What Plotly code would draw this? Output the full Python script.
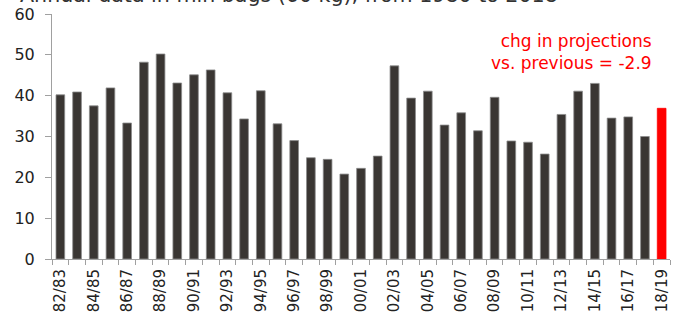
import plotly.graph_objects as go

seasons = ["82/83","83/84","84/85","85/86","86/87","87/88","88/89","89/90","90/91","91/92",
           "92/93","93/94","94/95","95/96","96/97","97/98","98/99","99/00","00/01","01/02",
           "02/03","03/04","04/05","05/06","06/07","07/08","08/09","09/10","10/11","11/12",
           "12/13","13/14","14/15","15/16","16/17","17/18","18/19"]
values = [40.2, 40.9, 37.5, 41.9, 33.3, 48.2, 50.2, 43.1, 45.1, 46.3,
          40.7, 34.3, 41.2, 33.1, 29.0, 24.8, 24.4, 20.8, 22.2, 25.2,
          47.3, 39.4, 41.1, 32.8, 35.8, 31.4, 39.6, 28.9, 28.6, 25.7,
          35.4, 41.1, 43.0, 34.5, 34.8, 30.0, 36.9]
tick_labels = [s if i % 2 == 0 else "" for i, s in enumerate(seasons)]
colors = ["#3a3633"] * (len(seasons) - 1) + ["#ff0000"]
line_colors = ["#8c8c8c"] * (len(seasons) - 1) + ["#ff0000"]

font_family = "'DejaVu Sans', sans-serif"

fig = go.Figure(go.Bar(
    x=seasons, y=values,
    marker=dict(color=colors, line=dict(color=line_colors, width=0.8)),
))

fig.update_layout(
    width=680, height=327,
    margin=dict(l=52, r=10, t=14, b=68),
    plot_bgcolor="white", paper_bgcolor="white",
    bargap=0.48,
    showlegend=False,
    font=dict(family=font_family, color="#222222"),
    xaxis=dict(
        type="category", automargin=False,
        tickmode="array", tickvals=seasons, ticktext=tick_labels,
        tickangle=-90, tickson="boundaries",
        ticks="outside", ticklen=5, tickcolor="#a0a0a0",
        showline=True, linecolor="#a0a0a0", linewidth=1,
        showgrid=False, ticklabelstandoff=3,
        tickfont=dict(size=15, color="#222222"),
    ),
    yaxis=dict(
        range=[0, 60], tickvals=[0, 10, 20, 30, 40, 50, 60], automargin=False,
        ticks="outside", ticklen=6, tickcolor="#a0a0a0",
        showline=True, linecolor="#a0a0a0", linewidth=1,
        showgrid=False, zeroline=False, ticklabelstandoff=7,
        ticklabeloverflow="allow",
        tickfont=dict(size=16, color="#222222"),
    ),
    annotations=[
        dict(text="Annual data in mln bags (60 kg), from 1980 to 2018",
             xref="paper", yref="paper", x=-0.055, y=1.0, xanchor="left", yanchor="bottom",
             yshift=5, showarrow=False, font=dict(size=20.6, color="#333333")),
        dict(text="chg in projections<br>vs. previous = -2.9",
             xref="paper", yref="paper", x=0.974, y=0.94, xanchor="right", yanchor="top",
             align="right", showarrow=False, font=dict(size=17, color="#ff0000")),
    ],
)

fig.write_html("out.html", config={"displayModeBar": False},
               post_script="document.body.style.margin='0';")
